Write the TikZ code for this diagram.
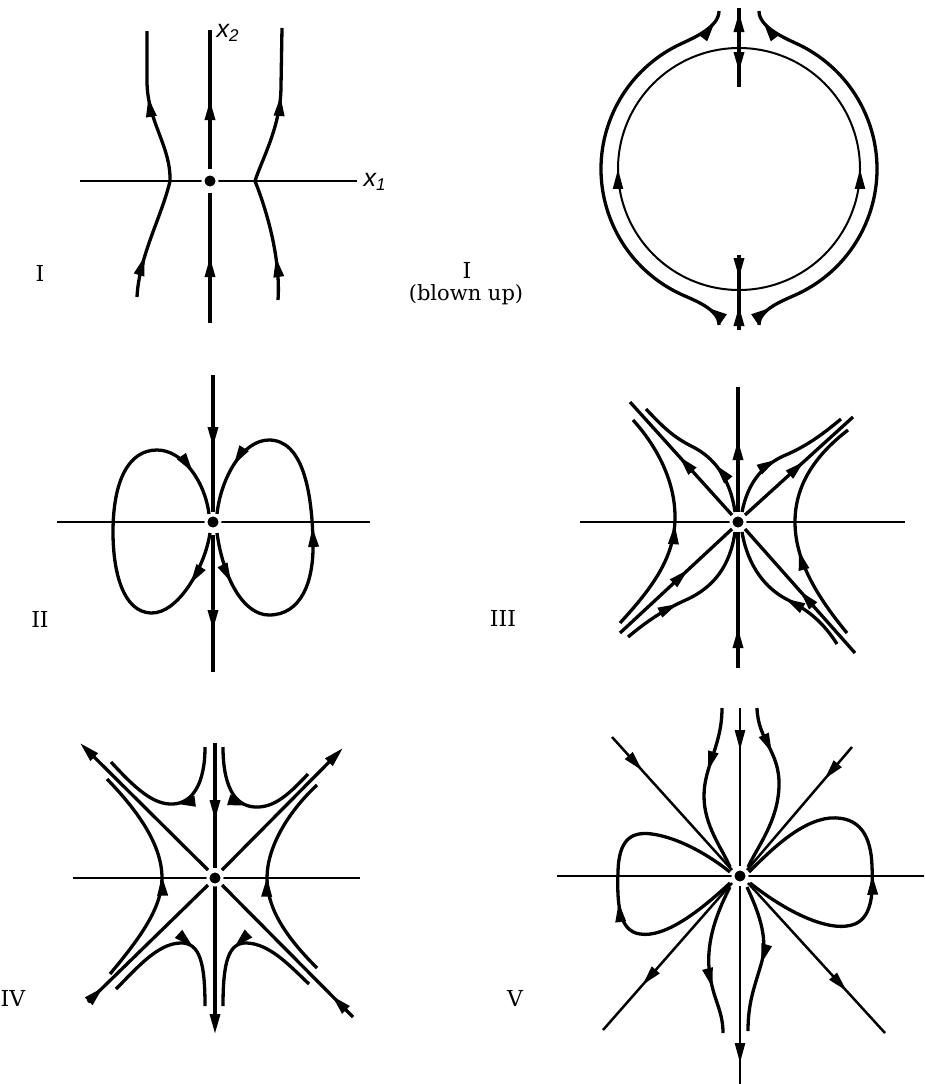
\documentclass[tikz,border=0pt]{standalone}
\usepackage{fontspec}
\setmainfont{DejaVu Serif}
\newfontfamily\axfont{Liberation Sans}
\usetikzlibrary{arrows.meta,decorations.markings}
\newcommand{\axlab}[1]{{\axfont\itshape\fontsize{25}{30}\selectfont x\raisebox{-0.35ex}{\fontsize{17}{20}\selectfont #1}}}
\begin{document}
\begin{tikzpicture}[x=1pt, y=-1pt,
  >={Triangle[length=20pt,width=10pt]},
  traj/.style={line width=3.3pt},
  axisline/.style={line width=2pt},
  sepline/.style={line width=2.5pt},
  arr/.style={postaction={decorate, decoration={markings, mark=at position #1 with {\arrow{>}}}}},
  fixpt/.style={circle, fill=black, draw=white, line width=3pt, minimum size=14pt, inner sep=0pt},
  numlab/.style={font=\fontsize{22}{26}\selectfont}
]
\useasboundingbox (0,0) rectangle (924,1084);

% I
\begin{scope}[shift={(210,181)}]
  \draw[axisline] (-130,0) -- (147,0);
  \draw[traj, arr=66pt] (0,142) -- (0,12);
  \draw[traj, arr=69pt] (0,-12) -- (0,-151);
  \draw[traj, arr=42pt, arr=-66pt] (-73,116) .. controls (-71,75) and (-48,35) .. (-40,0)
    .. controls (-39,-35) and (-63,-60) .. (-63,-100) -- (-63,-150);
  \draw[traj, arr=43pt, arr=-68pt] (68,119) .. controls (71,75) and (55,25) .. (45,0)
    .. controls (52,-22) and (71,-55) .. (71,-95) -- (72,-153);
  \node[fixpt] (o1) at (0,0) {};
  \node[anchor=west] (x2) at (3,-148) {\axlab{2}};
  \node[anchor=west] (x1) at (150,1) {\axlab{1}};
\end{scope}
\node[numlab] (lab1) at (40,273) {I};

% I blown up
\begin{scope}[shift={(739,169)}]
  \draw[axisline, arr=0.5] (0,121) arc[start angle=90, end angle=270, radius=121];
  \draw[axisline, arr=0.5] (0,121) arc[start angle=90, end angle=-90, radius=121];
  \draw[traj, arr=36pt] (0,-121) -- (0,-161);
  \draw[traj, arr=24pt] (0,-121) -- (0,-82);
  \draw[traj, arr=23pt] (0,86) -- (0,121);
  \draw[traj, arr=24pt] (0,161) -- (0,121);
  \draw[traj, arr=22pt, arr=-12pt] (-20,156) .. controls (-20,140) and (-44.7,131.4) .. (-58.3,125.1)
    arc[start angle=115, end angle=245, radius=138] .. controls (-44.7,-131.4) and (-20,-142) .. (-20,-158);
  \draw[traj, arr=22pt, arr=-12pt] (20,156) .. controls (20,140) and (44.7,131.4) .. (58.3,125.1)
    arc[start angle=65, end angle=-65, radius=138] .. controls (44.7,-131.4) and (20,-142) .. (20,-158);
\end{scope}
\node[numlab] (lab1b) at (467,270) {I};
\node[font=\fontsize{21}{25}\selectfont] (blown) at (466,295) {(blown up)};

% II
\begin{scope}[shift={(213,522)}]
  \draw[axisline] (-156,0) -- (157,0);
  \draw[traj, arr=72pt] (0,-147) -- (0,-10);
  \draw[traj, arr=95pt] (0,13) -- (0,150);
  \draw[traj, arr=55pt, arr=-45pt] (-3,11) .. controls (-8,45) and (-35,92) .. (-62,91)
    .. controls (-90,90) and (-100,50) .. (-100,10) .. controls (-100,-40) and (-85,-72) .. (-56,-72)
    .. controls (-30,-72) and (-8,-40) .. (-4,-8);
  \draw[traj, arr=52pt, arr=215pt, arr=-52pt] (4,11) .. controls (10,55) and (30,93) .. (56,93)
    .. controls (88,93) and (101,60) .. (100,20) .. controls (99,-30) and (90,-82) .. (56,-82)
    .. controls (30,-82) and (8,-45) .. (4,-8);
  \node[fixpt] (o3) at (0,0) {};
\end{scope}
\node[numlab] (lab2) at (40,619) {II};

% III
\begin{scope}[shift={(738,522)}]
  \draw[axisline] (-158,0) -- (167,0);
  \draw[traj, arr=72pt] (0,-10) -- (0,-135);
  \draw[traj, arr=40pt] (0,146) -- (0,10);
  \draw[traj, arr=79pt] (-6,-7) -- (-108,-120);
  \draw[traj, arr=80pt] (7,-7) -- (115,-105);
  \draw[traj, arr=93pt] (-118,111) -- (-6,7);
  \draw[traj, arr=83pt] (117,131) -- (7,7);
  \draw[traj, arr=52pt] (-3,-10) .. controls (-8,-45) and (-25,-65) .. (-45,-75)
    .. controls (-65,-85) and (-75,-95) .. (-92,-113);
  \draw[traj, arr=65pt] (4,-10) .. controls (10,-40) and (25,-58) .. (50,-68)
    .. controls (70,-77) and (85,-88) .. (103,-103);
  \draw[traj, arr=60pt] (-110,115) .. controls (-92,100) and (-75,88) .. (-50,77)
    .. controls (-25,65) and (-8,45) .. (-3,10);
  \draw[traj, arr=70pt] (99,122) .. controls (85,100) and (70,88) .. (50,78)
    .. controls (28,67) and (10,45) .. (4,10);
  \draw[traj, arr=0.5] (-118,101) .. controls (-85,65) and (-63,35) .. (-63,-5)
    .. controls (-63,-45) and (-85,-80) .. (-105,-102);
  \draw[traj, arr=0.41] (109,111) .. controls (75,70) and (57,35) .. (57,0)
    .. controls (57,-35) and (75,-65) .. (110,-92);
  \node[fixpt] (o4) at (0,0) {};
\end{scope}
\node[numlab] (lab3) at (503,618) {III};

% IV
\begin{scope}[shift={(215,878)}]
  \draw[axisline] (-142,0) -- (145,0);
  \draw[traj, arr=77pt] (0,-135) -- (0,-10);
  \draw[traj, ->] (0,8) -- (0,156);
  \draw[traj, ->] (-7,-8) -- (-135,-135);
  \draw[traj, ->] (7,-8) -- (128,-130);
  \draw[traj, arr=21pt] (-127,124) -- (-7,7);
  \draw[traj, arr=30pt] (138,139) -- (7,7);
  \draw[traj, arr=70pt] (-10,-131) .. controls (-10,-95) and (-22,-75) .. (-42,-74)
    .. controls (-62,-73) and (-80,-90) .. (-104,-116);
  \draw[traj, arr=68pt] (8,-131) .. controls (8,-95) and (18,-72) .. (40,-71)
    .. controls (60,-70) and (75,-85) .. (93,-104);
  \draw[traj, arr=0.5] (-105,96) .. controls (-75,60) and (-53,30) .. (-53,0)
    .. controls (-53,-35) and (-80,-70) .. (-108,-99);
  \draw[traj, arr=0.5] (102,90) .. controls (70,58) and (52,30) .. (52,0)
    .. controls (52,-30) and (72,-65) .. (102,-93);
  \draw[traj, arr=95pt] (-99,111) .. controls (-78,90) and (-58,66) .. (-35,65)
    .. controls (-15,64) and (-10,85) .. (-10,128);
  \draw[traj, arr=90pt] (94,106) .. controls (75,88) and (55,66) .. (32,65)
    .. controls (13,64) and (8,85) .. (8,128);
  \node[fixpt] (o5) at (0,0) {};
\end{scope}
\node[numlab] (lab4) at (13,998) {IV};

% V
\begin{scope}[shift={(740,876)}]
  \draw[axisline] (-183,0) -- (184,0);
  \draw[sepline, arr=42pt] (0,-168) -- (0,-10);
  \draw[sepline, arr=177pt] (0,10) -- (0,208);
  \draw[sepline, arr=45pt] (-128,-139) -- (-8,-6);
  \draw[sepline, arr=42pt] (112,-129) -- (7,-6);
  \draw[sepline, arr=-60pt] (-8,7) -- (-137,154);
  \draw[sepline, arr=-57pt] (8,7) -- (145,157);
  \draw[traj, arr=65pt] (-18,-168) .. controls (-18,-130) and (-36,-110) .. (-36,-80)
    .. controls (-36,-50) and (-18,-28) .. (-10,-9);
  \draw[traj, arr=48pt] (17,-168) .. controls (18,-135) and (40,-125) .. (39,-90)
    .. controls (38,-55) and (18,-30) .. (8,-9);
  \draw[traj, arr=148pt] (-10,7) .. controls (-40,35) and (-75,62) .. (-100,58)
    .. controls (-122,55) and (-123,25) .. (-122,-5) .. controls (-121,-35) and (-110,-45) .. (-88,-42)
    .. controls (-60,-38) and (-30,-20) .. (-10,-4);
  \draw[traj, arr=172pt] (10,7) .. controls (45,35) and (90,58) .. (115,48)
    .. controls (133,40) and (133,15) .. (132,-10) .. controls (131,-40) and (120,-60) .. (90,-58)
    .. controls (60,-55) and (30,-25) .. (9,-4);
  \draw[traj, arr=105pt] (-10,11) .. controls (-25,40) and (-35,70) .. (-30,100)
    .. controls (-26,125) and (-17,135) .. (-17,157);
  \draw[traj, arr=80pt] (7,11) .. controls (18,35) and (28,60) .. (22,85)
    .. controls (15,110) and (8,125) .. (8,155);
  \node[fixpt] (o6) at (0,0) {};
\end{scope}
\node[numlab] (lab5) at (515,998) {V};
\end{tikzpicture}
\end{document}
